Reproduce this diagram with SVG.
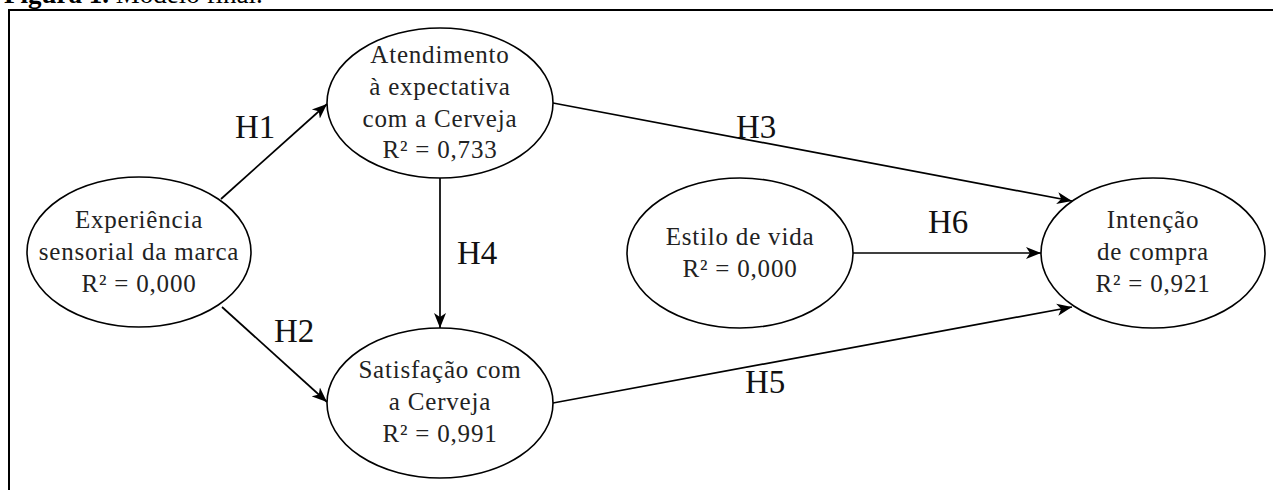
<svg xmlns="http://www.w3.org/2000/svg" width="1273" height="490" viewBox="0 0 1273 490">
<style>
.title{font-family:"Liberation Serif",serif;font-size:27px;fill:#000}
.node ellipse{fill:#fff;stroke:#000;stroke-width:1.6}
.node text{font-family:"Liberation Serif",serif;font-size:25px;letter-spacing:0.8px;fill:#222;text-anchor:middle}
.lab{font-family:"Liberation Serif",serif;font-size:33px;fill:#111}
.edge{stroke:#000;stroke-width:1.7;fill:none;marker-end:url(#arr)}
</style>
<defs>
<marker id="arr" markerUnits="userSpaceOnUse" markerWidth="16" markerHeight="14" viewBox="0 0 16 14" refX="15" refY="7" orient="auto">
<path d="M0,1 L15,7 L0,13 L4,7 Z" fill="#000"/>
</marker>
</defs>
<rect width="1273" height="490" fill="#fff"/>
<text class="title" x="4" y="3"><tspan font-weight="bold">Figura 1.</tspan> Modelo final.</text>
<rect x="9" y="10" width="1300" height="500" fill="none" stroke="#000" stroke-width="2"/>
<g id="connectors">
<line class="edge" x1="221" y1="199" x2="327" y2="104"/>
<line class="edge" x1="222" y1="307" x2="327" y2="402"/>
<line class="edge" x1="553" y1="103" x2="1072" y2="201"/>
<line class="edge" x1="440" y1="178" x2="440" y2="328"/>
<line class="edge" x1="553" y1="403" x2="1072" y2="307"/>
<line class="edge" x1="853" y1="253" x2="1041" y2="253"/>
<text class="lab" x="235" y="138">H1</text>
<text class="lab" x="274" y="342">H2</text>
<text class="lab" x="736" y="138">H3</text>
<text class="lab" x="457" y="264">H4</text>
<text class="lab" x="745" y="393">H5</text>
<text class="lab" x="928" y="233">H6</text>
</g>
<g id="experiencia" class="node">
<ellipse cx="139" cy="252" rx="112" ry="75"/>
<text x="139" y="228">Experiência</text>
<text x="139" y="260">sensorial da marca</text>
<text x="139" y="292">R² = 0,000</text>
</g>
<g id="atendimento" class="node">
<ellipse cx="440" cy="103" rx="113" ry="75"/>
<text x="440" y="63">Atendimento</text>
<text x="440" y="95">à expectativa</text>
<text x="440" y="127">com a Cerveja</text>
<text x="440" y="158">R² = 0,733</text>
</g>
<g id="satisfacao" class="node">
<ellipse cx="440" cy="403" rx="113" ry="75"/>
<text x="440" y="378">Satisfação com</text>
<text x="440" y="410">a Cerveja</text>
<text x="440" y="442">R² = 0,991</text>
</g>
<g id="estilo" class="node">
<ellipse cx="740" cy="253" rx="113" ry="75"/>
<text x="740" y="245">Estilo de vida</text>
<text x="740" y="277">R² = 0,000</text>
</g>
<g id="intencao" class="node">
<ellipse cx="1153" cy="253" rx="112" ry="75"/>
<text x="1153" y="228">Intenção</text>
<text x="1153" y="260">de compra</text>
<text x="1153" y="292">R² = 0,921</text>
</g>
</svg>
